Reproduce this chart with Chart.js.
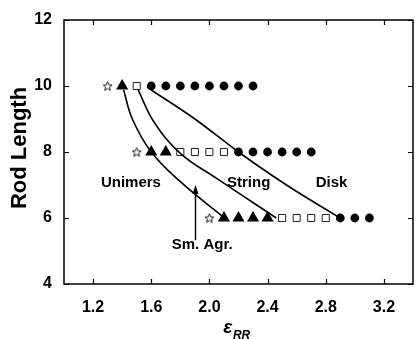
<!DOCTYPE html>
<html>
<head>
<meta charset="utf-8">
<script src="https://cdn.jsdelivr.net/npm/chart.js@4"></script>
<style>
  html, body { margin: 0; padding: 0; background: #fff; overflow: hidden; }
  #wrap { width: 420px; height: 339px; }
</style>
</head>
<body>
<div id="wrap"><canvas id="phase-diagram"></canvas></div>
<script>
const X_TICKS = [1.2, 1.6, 2.0, 2.4, 2.8, 3.2]
const Y_TICKS = [4, 6, 8, 10, 12]

// one entry per rod length row
const ROD_LENGTHS = [10, 8, 6]
const STAR_EPS = [[1.3], [1.5], [2.0]]
const TRIANGLE_EPS = [[1.4], [1.6, 1.7], [2.1, 2.2, 2.3, 2.4]]
const SQUARE_EPS = [[1.5], [1.8, 1.9, 2.0, 2.1], [2.5, 2.6, 2.7, 2.8]]
const CIRCLE_EPS = [
  [1.6, 1.7, 1.8, 1.9, 2.0, 2.1, 2.2, 2.3],
  [2.2, 2.3, 2.4, 2.5, 2.6, 2.7],
  [2.9, 3.0, 3.1],
]

// phase boundaries
const BOUNDARY_UNIMER_X = [1.41, 1.47, 1.6, 1.8, 2.09]
const BOUNDARY_UNIMER_Y = [9.88, 9.0, 8.0, 7.1, 6.05]
const BOUNDARY_STRING_X = [1.51, 1.62, 1.8, 2.05, 2.46]
const BOUNDARY_STRING_Y = [9.88, 8.9, 7.96, 7.2, 6.0]
const BOUNDARY_DISK_X = [1.6, 1.9, 2.2, 2.53, 2.88]
const BOUNDARY_DISK_Y = [9.88, 9.0, 8.0, 7.0, 6.05]

const PHASE_LABELS = ['Unimers', 'String', 'Disk', 'Sm. Agr.']
const PHASE_LABEL_X = [1.46, 2.27, 2.84, 1.95]
const PHASE_LABEL_Y = [6.94, 6.94, 6.94, 5.05]

const ARROW_X = 1.9
const ARROW_FROM_Y = 5.33
const ARROW_TO_Y = 7.0

const FONT = '"Liberation Sans", Arial, Helvetica, sans-serif'

const rowPoints = (rows) =>
  rows.flatMap((xs, i) => xs.map((x) => ({ x, y: ROD_LENGTHS[i] })))

const curve = (xs, ys) => xs.map((x, i) => ({ x, y: ys[i] }))

const makeStar = (size) => {
  const c = document.createElement('canvas')
  c.width = size
  c.height = size
  const g = c.getContext('2d')
  const cx = size / 2
  const cy = size / 2 + 0.5
  const R = size / 2 - 0.8
  const r = R * 0.45
  g.beginPath()
  for (let i = 0; i < 10; i++) {
    const a = -Math.PI / 2 + (i * Math.PI) / 5
    const rr = i % 2 ? r : R
    g.lineTo(cx + rr * Math.cos(a), cy + rr * Math.sin(a))
  }
  g.closePath()
  g.fillStyle = '#fff'
  g.fill()
  g.lineWidth = 0.9
  g.strokeStyle = '#000'
  g.stroke()
  return c
}

const lineSet = (data) => ({
  type: 'line',
  data,
  showLine: true,
  borderColor: '#000',
  borderWidth: 1.6,
  pointRadius: 0,
  fill: false,
  tension: 0.4,
})

// frame, inward ticks, phase labels, arrow and axis titles
const decorations = {
  id: 'decorations',
  afterDraw(chart) {
    const { ctx, chartArea: a, scales: { x, y } } = chart
    ctx.save()
    ctx.strokeStyle = '#000'
    ctx.lineWidth = 1.5
    ctx.strokeRect(a.left, a.top, a.right - a.left, a.bottom - a.top)
    ctx.lineWidth = 1.2
    ctx.beginPath()
    X_TICKS.forEach((v) => {
      const px = Math.round(x.getPixelForValue(v)) + 0.5
      ctx.moveTo(px, a.bottom)
      ctx.lineTo(px, a.bottom - 5)
      ctx.moveTo(px, a.top)
      ctx.lineTo(px, a.top + 5)
    })
    Y_TICKS.forEach((v) => {
      const py = Math.round(y.getPixelForValue(v)) + 0.5
      ctx.moveTo(a.left, py)
      ctx.lineTo(a.left + 5, py)
      ctx.moveTo(a.right, py)
      ctx.lineTo(a.right - 5, py)
    })
    ctx.stroke()

    ctx.fillStyle = '#000'
    ctx.font = 'bold 15px ' + FONT
    ctx.textAlign = 'center'
    ctx.textBaseline = 'alphabetic'
    PHASE_LABELS.forEach((t, i) => {
      ctx.fillText(t, x.getPixelForValue(PHASE_LABEL_X[i]), y.getPixelForValue(PHASE_LABEL_Y[i]))
    })

    const ax = Math.round(x.getPixelForValue(ARROW_X)) + 0.5
    const y0 = y.getPixelForValue(ARROW_FROM_Y)
    const y1 = y.getPixelForValue(ARROW_TO_Y)
    ctx.lineWidth = 1.4
    ctx.beginPath()
    ctx.moveTo(ax, y0)
    ctx.lineTo(ax, y1 + 6)
    ctx.stroke()
    ctx.beginPath()
    ctx.moveTo(ax, y1)
    ctx.lineTo(ax - 3, y1 + 9)
    ctx.lineTo(ax + 3, y1 + 9)
    ctx.closePath()
    ctx.fill()

    // y axis title, a little above the plot centre as in the figure
    ctx.save()
    ctx.translate(20, (a.top + a.bottom) / 2 - 4)
    ctx.rotate(-Math.PI / 2)
    ctx.textAlign = 'center'
    ctx.textBaseline = 'middle'
    ctx.font = 'bold 22px ' + FONT
    ctx.fillText('Rod Length', 0, 0)
    ctx.restore()

    // x axis title: epsilon with RR subscript
    const cx = (a.left + a.right) / 2 - 2
    ctx.textAlign = 'left'
    ctx.font = 'italic bold 19px ' + FONT
    const ew = ctx.measureText('\u03b5').width
    ctx.font = 'italic bold 12px ' + FONT
    const sw = ctx.measureText('RR').width
    const start = cx - (ew + sw) / 2
    ctx.font = 'italic bold 19px ' + FONT
    ctx.fillText('\u03b5', start, 333)
    ctx.font = 'italic bold 12px ' + FONT
    ctx.fillText('RR', start + ew + 0.5, 339)
    ctx.restore()
  },
}

const ctx = document.getElementById('phase-diagram').getContext('2d')

new Chart(ctx, {
  type: 'scatter',
  data: {
    datasets: [
      lineSet(curve(BOUNDARY_UNIMER_X, BOUNDARY_UNIMER_Y)),
      lineSet(curve(BOUNDARY_STRING_X, BOUNDARY_STRING_Y)),
      lineSet(curve(BOUNDARY_DISK_X, BOUNDARY_DISK_Y)),
      {
        label: 'Unimers',
        data: rowPoints(STAR_EPS),
        pointStyle: makeStar(11),
        pointRadius: 5,
      },
      {
        label: 'Small aggregates',
        data: rowPoints(TRIANGLE_EPS),
        pointStyle: 'triangle',
        pointRadius: 7,
        backgroundColor: '#000',
        borderColor: '#000',
        borderWidth: 0,
      },
      {
        label: 'String',
        data: rowPoints(SQUARE_EPS),
        pointStyle: 'rect',
        pointRadius: 5,
        backgroundColor: '#fff',
        borderColor: '#222',
        borderWidth: 1,
      },
      {
        label: 'Disk',
        data: rowPoints(CIRCLE_EPS),
        pointStyle: 'circle',
        pointRadius: 4.4,
        backgroundColor: '#000',
        borderColor: '#000',
        borderWidth: 0,
      },
    ],
  },
  options: {
    responsive: true,
    maintainAspectRatio: false,
    animation: false,
    events: [],
    layout: { padding: { top: 20, right: 0, left: 0, bottom: 0 } },
    plugins: {
      legend: { display: false },
      tooltip: { enabled: false },
    },
    scales: {
      x: {
        type: 'linear',
        min: 1.0,
        max: 3.4,
        afterBuildTicks: (scale) => {
          scale.ticks = X_TICKS.map((value) => ({ value }))
        },
        afterFit: (scale) => {
          scale.height = 55
        },
        grid: { display: false },
        border: { display: false },
        ticks: {
          color: '#000',
          padding: 6,
          maxRotation: 0,
          font: { family: FONT, size: 16, weight: 'bold' },
          callback: (v) => v.toFixed(1),
        },
      },
      y: {
        type: 'linear',
        min: 4,
        max: 12,
        afterBuildTicks: (scale) => {
          scale.ticks = Y_TICKS.map((value) => ({ value }))
        },
        afterFit: (scale) => {
          scale.width = 64
        },
        grid: { display: false },
        border: { display: false },
        ticks: {
          color: '#000',
          padding: 4,
          font: { family: FONT, size: 16, weight: 'bold' },
        },
      },
    },
  },
  plugins: [decorations],
})
</script>
</body>
</html>
